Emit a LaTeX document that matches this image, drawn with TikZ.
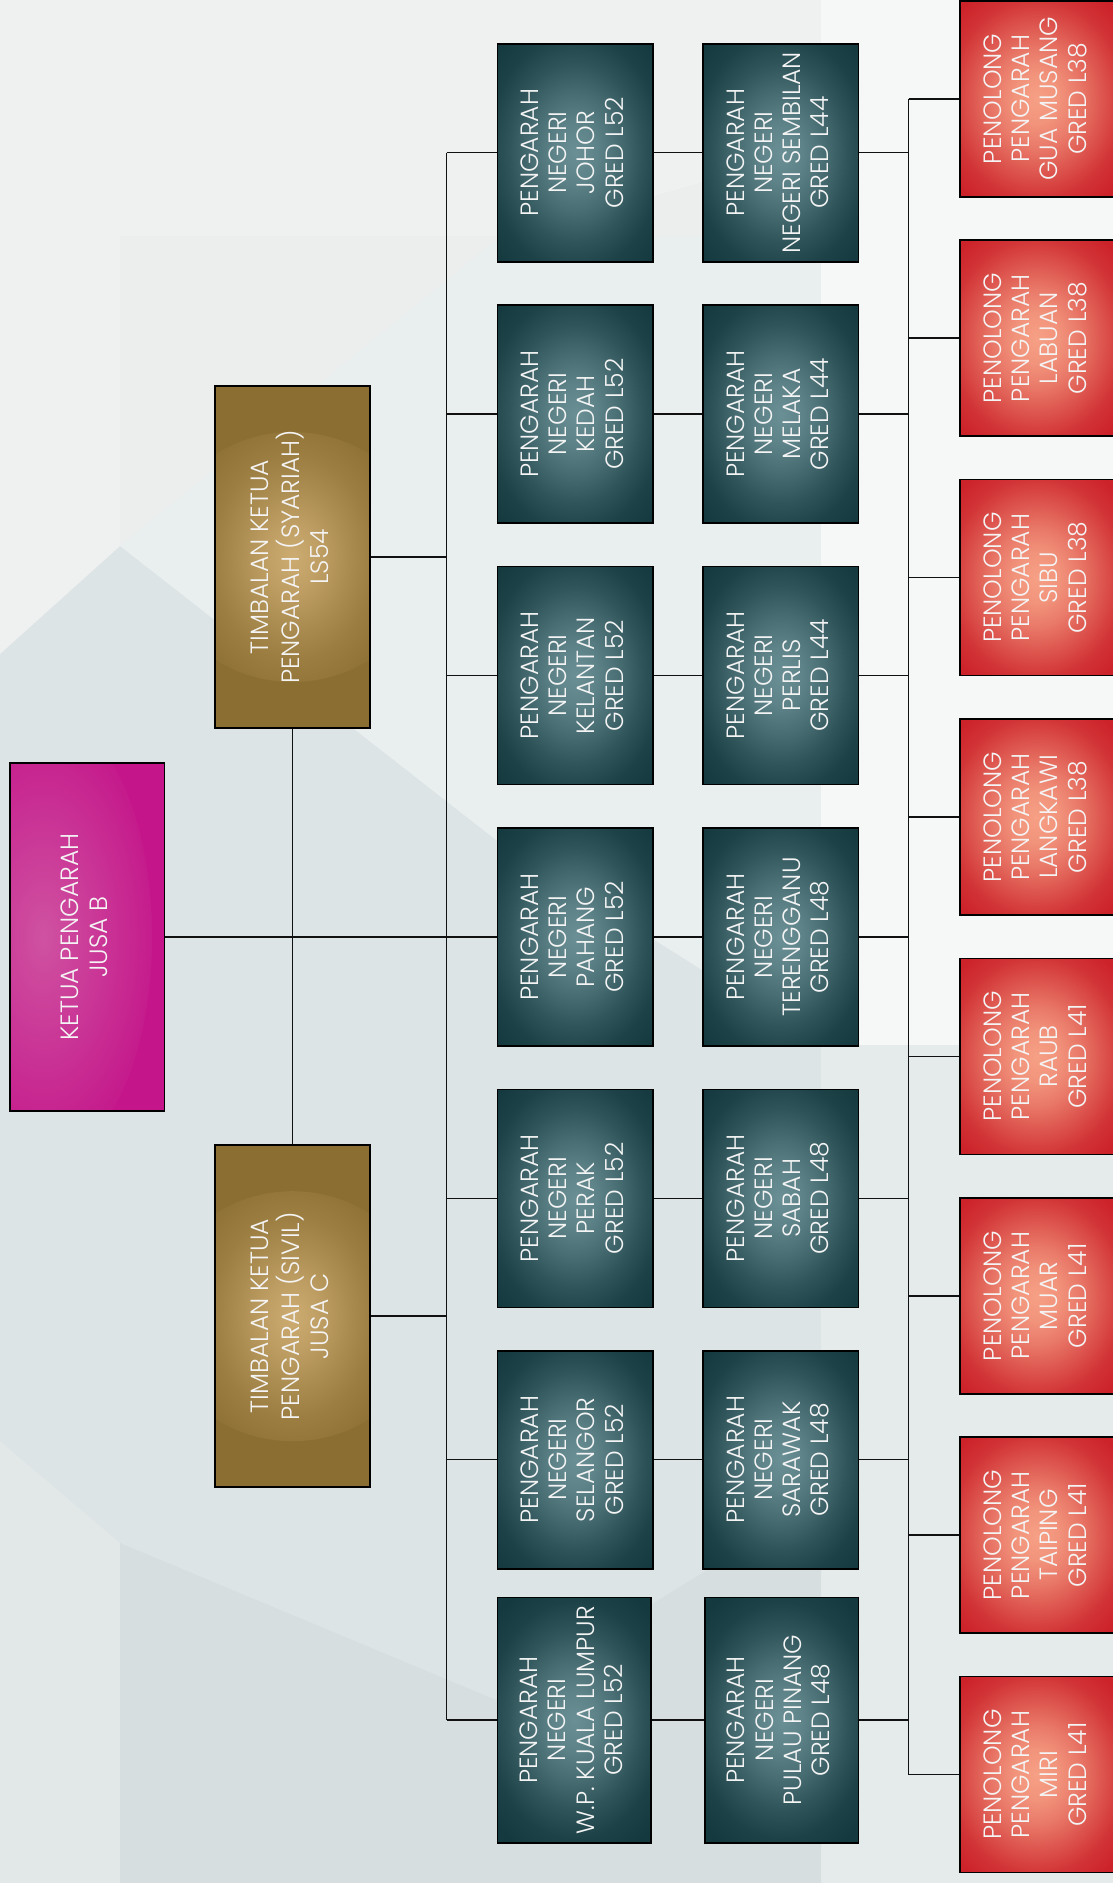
\documentclass[tikz,border=0pt]{standalone}
\usepackage{fontspec}
\setmainfont{Poppins}[UprightFont=* Light]
\usepackage{graphicx}
\usetikzlibrary{calc}
\definecolor{tealA}{HTML}{6A9096}
\definecolor{tealB}{HTML}{14393F}
\definecolor{goldA}{HTML}{CDAC72}
\definecolor{goldB}{HTML}{8B6E31}
\definecolor{redA}{HTML}{F6A085}
\definecolor{redB}{HTML}{CC2229}
\definecolor{magA}{HTML}{CF52A1}
\definecolor{magB}{HTML}{C4168A}
\definecolor{txtc}{HTML}{F4F4F4}
\definecolor{lnc}{HTML}{111111}
\colorlet{tealC}{tealA!85!tealB}\colorlet{tealD}{tealA!60!tealB}\colorlet{tealE}{tealA!32!tealB}\colorlet{tealF}{tealA!10!tealB}
\colorlet{goldC}{goldA!78!goldB}\colorlet{goldD}{goldA!50!goldB}\colorlet{goldE}{goldA!25!goldB}\colorlet{goldF}{goldA!8!goldB}
\colorlet{redC}{redA!90!redB}\colorlet{redD}{redA!68!redB}\colorlet{redE}{redA!40!redB}\colorlet{redF}{redA!14!redB}
\pgfdeclareradialshading{tealshade}{\pgfpoint{0bp}{0bp}}{color(0bp)=(tealA); color(5bp)=(tealC); color(10bp)=(tealD); color(15bp)=(tealE); color(20bp)=(tealF); color(25bp)=(tealB); color(50bp)=(tealB)}
\pgfdeclareradialshading{goldshade}{\pgfpoint{0bp}{0bp}}{color(0bp)=(goldA); color(5bp)=(goldC); color(10bp)=(goldD); color(15bp)=(goldE); color(20bp)=(goldF); color(25bp)=(goldB); color(50bp)=(goldB)}
\pgfdeclareradialshading{redshade}{\pgfpoint{0bp}{0bp}}{color(0bp)=(redA); color(5bp)=(redC); color(10bp)=(redD); color(15bp)=(redE); color(20bp)=(redF); color(25bp)=(redB); color(50bp)=(redB)}
\pgfdeclareradialshading{magshade}{\pgfpoint{0bp}{0bp}}{color(0bp)=(magA); color(25bp)=(magB); color(50bp)=(magB)}
\newcommand\rottxt[1]{\rotatebox{90}{\fontsize{25}{28.3}\selectfont\begin{tabular}{@{}c@{}}#1\end{tabular}}}
\tikzset{
  box/.style={draw=black, line width=1.6pt, inner sep=0pt, text=txtc, font=\fontsize{25}{28.3}\selectfont},
  tealbox/.style={box, fill=tealB, minimum width=155.4pt, minimum height=218pt,
    path picture={\shade[shading=tealshade] (path picture bounding box.center) ellipse [x radius=110pt, y radius=148pt];}},
  goldbox/.style={box, fill=goldB, minimum width=155pt, minimum height=342pt,
    path picture={\shade[shading=goldshade] (path picture bounding box.center) ellipse [x radius=135pt, y radius=125pt];}},
  redbox/.style={box, fill=redB, minimum width=156pt, minimum height=196pt,
    path picture={\shade[shading=redshade] ([xshift=-1.5pt]path picture bounding box.center) ellipse [x radius=110pt, y radius=125pt];}},
  magbox/.style={box, fill=magB, minimum width=154.3pt, minimum height=348pt,
    path picture={\shade[shading=magshade] ([xshift=-50pt]path picture bounding box.center) ellipse [x radius=115pt, y radius=230pt];}},
  conn/.style={draw=lnc, line width=1.5pt},
}
\begin{document}
\begin{tikzpicture}[x=1pt,y=-1pt]
\useasboundingbox (0,0) rectangle (1113,1883);
\clip (0,0) rectangle (1113,1883);
% background
\fill[color={rgb,255:red,221;green,228;blue,229}] (0,0) rectangle (1113,1883);
\fill[color={rgb,255:red,233;green,238;blue,238}] (120,546) -- (496,240) -- (821,150) -- (821,1045) -- (496,840) -- cycle;
\fill[color={rgb,255:red,239;green,240;blue,240}] (0,0) -- (821,0) -- (821,150) -- (496,240) -- (120,546) -- (0,654) -- cycle;
\fill[color={rgb,255:red,236;green,238;blue,238}] (120,236) -- (821,236) -- (821,150) -- (496,240) -- (120,546) -- cycle;
\fill[color={rgb,255:red,246;green,247;blue,247}] (821,0) -- (1113,0) -- (1113,1045) -- (821,1045) -- cycle;
\fill[color={rgb,255:red,229;green,234;blue,235}] (821,1045) -- (1113,1045) -- (1113,1883) -- (821,1883) -- cycle;
\fill[color={rgb,255:red,226;green,231;blue,232}] (0,1441) -- (120,1543) -- (120,1883) -- (0,1883) -- cycle;
\fill[color={rgb,255:red,215;green,222;blue,223}] (120,1543) -- (496,1700) -- (821,1500) -- (821,1883) -- (120,1883) -- cycle;

% trunk coordinates
\coordinate (t1) at (446.5,0);
\coordinate (t2) at (908.7,0);

% level 0 and 1
\node[magbox] (ketua) at (87.2,936.9) {\rottxt{KETUA PENGARAH\\JUSA B}};
\node[goldbox] (syariah) at (292.5,557) {\rottxt{TIMBALAN KETUA\\PENGARAH (SYARIAH)\\LS54}};
\node[goldbox] (sivil) at (292.5,1316.2) {\rottxt{TIMBALAN KETUA\\PENGARAH (SIVIL)\\JUSA C}};

% column 1
\node[tealbox] (johor) at (575.1,152.7) {\rottxt{PENGARAH\\NEGERI\\JOHOR\\GRED L52}};
\node[tealbox] (kedah) at (575.1,414.1) {\rottxt{PENGARAH\\NEGERI\\KEDAH\\GRED L52}};
\node[tealbox] (kelantan) at (575.1,675.5) {\rottxt{PENGARAH\\NEGERI\\KELANTAN\\GRED L52}};
\node[tealbox] (pahang) at (575.1,936.9) {\rottxt{PENGARAH\\NEGERI\\PAHANG\\GRED L52}};
\node[tealbox] (perak) at (575.1,1198.3) {\rottxt{PENGARAH\\NEGERI\\PERAK\\GRED L52}};
\node[tealbox] (selangor) at (575.1,1459.7) {\rottxt{PENGARAH\\NEGERI\\SELANGOR\\GRED L52}};
\node[tealbox, minimum width=153.8pt, minimum height=245.4pt] (kl) at (574.3,1720) {\rottxt{PENGARAH\\NEGERI\\W.P. KUALA LUMPUR\\GRED L52}};

% column 2
\node[tealbox] (sembilan) at (780.8,152.7) {\rottxt{PENGARAH\\NEGERI\\NEGERI SEMBILAN\\GRED L44}};
\node[tealbox] (melaka) at (780.8,414.1) {\rottxt{PENGARAH\\NEGERI\\MELAKA\\GRED L44}};
\node[tealbox] (perlis) at (780.8,675.5) {\rottxt{PENGARAH\\NEGERI\\PERLIS\\GRED L44}};
\node[tealbox] (terengganu) at (780.8,936.9) {\rottxt{PENGARAH\\NEGERI\\TERENGGANU\\GRED L48}};
\node[tealbox] (sabah) at (780.8,1198.3) {\rottxt{PENGARAH\\NEGERI\\SABAH\\GRED L48}};
\node[tealbox] (sarawak) at (780.8,1459.7) {\rottxt{PENGARAH\\NEGERI\\SARAWAK\\GRED L48}};
\node[tealbox, minimum width=153.4pt, minimum height=245.4pt] (pinang) at (781.6,1720) {\rottxt{PENGARAH\\NEGERI\\PULAU PINANG\\GRED L48}};

% red column
\node[redbox] (guamusang) at (1038,98.8) {\rottxt{PENOLONG\\PENGARAH\\GUA MUSANG\\GRED L38}};
\node[redbox] (labuan) at (1038,338.2) {\rottxt{PENOLONG\\PENGARAH\\LABUAN\\GRED L38}};
\node[redbox] (sibu) at (1038,577.6) {\rottxt{PENOLONG\\PENGARAH\\SIBU\\GRED L38}};
\node[redbox] (langkawi) at (1038,817.0) {\rottxt{PENOLONG\\PENGARAH\\LANGKAWI\\GRED L38}};
\node[redbox] (raub) at (1038,1056.4) {\rottxt{PENOLONG\\PENGARAH\\RAUB\\GRED L41}};
\node[redbox] (muar) at (1038,1295.8) {\rottxt{PENOLONG\\PENGARAH\\MUAR\\GRED L41}};
\node[redbox] (taiping) at (1038,1535.2) {\rottxt{PENOLONG\\PENGARAH\\TAIPING\\GRED L41}};
\node[redbox] (miri) at (1038,1774.6) {\rottxt{PENOLONG\\PENGARAH\\MIRI\\GRED L41}};

% connectors
\draw[conn] (ketua.east) -- (pahang.west);
\draw[conn] (syariah.south) -- (sivil.north);
\draw[conn] (syariah.east) -- (syariah.east -| t1);
\draw[conn] (sivil.east) -- (sivil.east -| t1);
\draw[conn] (johor.west -| t1) -- (kl.west -| t1);
\foreach \a/\b in {johor/sembilan,kedah/melaka,kelantan/perlis,pahang/terengganu,perak/sabah,selangor/sarawak,kl/pinang}{
  \draw[conn] (\a.west -| t1) -- (\a.west);
  \draw[conn] (\a.east) -- (\b.west);
  \draw[conn] (\b.east) -- (\b.east -| t2);
}
\draw[conn] (guamusang.west -| t2) -- (miri.west -| t2);
\foreach \r in {guamusang,labuan,sibu,langkawi,raub,muar,taiping,miri}{
  \draw[conn] (\r.west -| t2) -- (\r.west);
}
\end{tikzpicture}
\end{document}
